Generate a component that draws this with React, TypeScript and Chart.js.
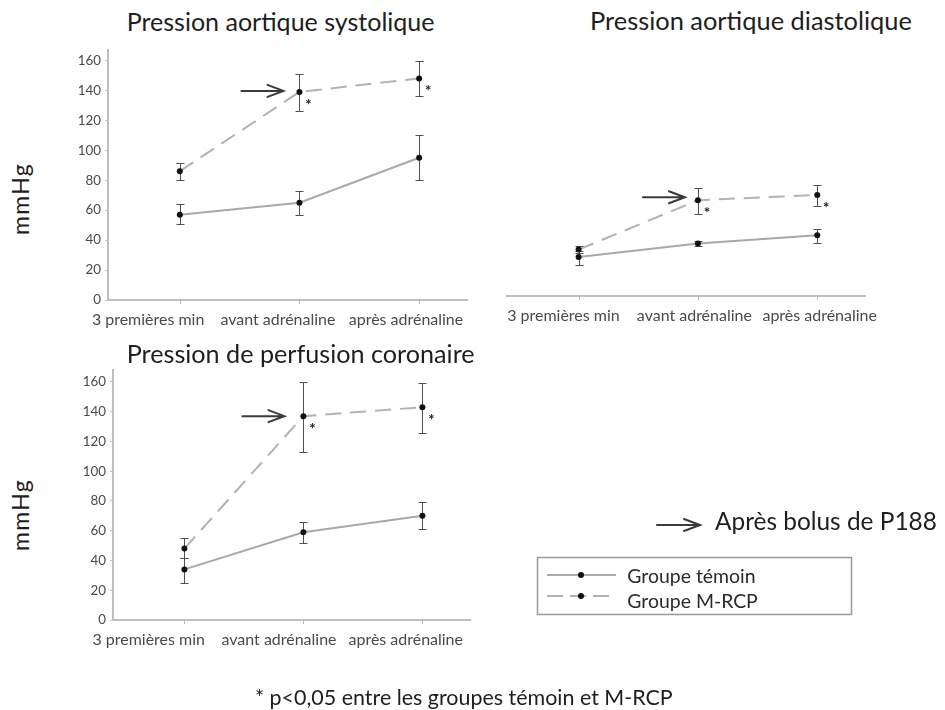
import React, { useEffect, useRef, useMemo } from "react";
import { Chart, registerables } from "chart.js";

Chart.register(...registerables);

const FAMILY = "Lato";
const FONT = "Lato, 'Open Sans', sans-serif";

// ---------- data ----------
const categories = ["3 premières min", "avant adrénaline", "après adrénaline"];
const yTickValues = [0, 20, 40, 60, 80, 100, 120, 140, 160];
const seriesNames = ["Groupe témoin", "Groupe M-RCP"];
const starIndices = [1, 2];

// Pression aortique systolique
const sysTemoin = [57, 65, 95];
const sysTemoinLow = [51, 57, 80];
const sysTemoinHigh = [64, 72.5, 110];
const sysRcp = [86, 139, 148];
const sysRcpLow = [80, 126, 136.5];
const sysRcpHigh = [91.5, 151, 159.5];

// Pression aortique diastolique
const diaTemoin = [26, 35, 40.5];
const diaTemoinLow = [21, 33.5, 35.5];
const diaTemoinHigh = [30, 37, 45];
const diaRcp = [31, 64, 67.5];
const diaRcpLow = [29, 55, 60];
const diaRcpHigh = [33.5, 72, 74];

// Pression de perfusion coronaire
const corTemoin = [34, 59, 70];
const corTemoinLow = [25, 52, 61];
const corTemoinHigh = [42, 66, 79];
const corRcp = [48, 137, 143];
const corRcpLow = [42, 113, 126];
const corRcpHigh = [55, 160, 159];

// ---------- helpers ----------
function measure(text: string, size: number): number {
  const c = document.createElement("canvas").getContext("2d");
  if (!c) return text.length * size * 0.5;
  c.font = `${size}px ${FONT}`;
  return c.measureText(text).width;
}
function fitSize(text: string, width: number): number {
  return (100 * width) / measure(text, 100);
}

type Panel = {
  left: number;
  top: number;
  width: number;
  height: number;
  pad: { left: number; right: number; top: number };
  showY: boolean;
  yMax: number;
  labelShift: number[];
  temoin: number[];
  temoinLow: number[];
  temoinHigh: number[];
  rcp: number[];
  rcpLow: number[];
  rcpHigh: number[];
  arrow: [number, number, number];
};

const panels: Panel[] = [
  {
    left: 60, top: 40, width: 420, height: 300,
    pad: { left: 0, right: 13, top: 10 },
    showY: true, yMax: 167,
    labelShift: [-0.265, -0.18, -0.11],
    temoin: sysTemoin, temoinLow: sysTemoinLow, temoinHigh: sysTemoinHigh,
    rcp: sysRcp, rcpLow: sysRcpLow, rcpHigh: sysRcpHigh,
    arrow: [-58, -16, -1],
  },
  {
    left: 480, top: 36, width: 465, height: 300,
    pad: { left: 27, right: 80, top: 10 },
    showY: false, yMax: 167,
    labelShift: [-0.127, -0.03, 0.02],
    temoin: diaTemoin, temoinLow: diaTemoinLow, temoinHigh: diaTemoinHigh,
    rcp: diaRcp, rcpLow: diaRcpLow, rcpHigh: diaRcpHigh,
    arrow: [-55, -13, -3],
  },
  {
    left: 65, top: 360, width: 420, height: 300,
    pad: { left: 0, right: 15, top: 10 },
    showY: true, yMax: 168,
    labelShift: [-0.3, -0.205, -0.14],
    temoin: corTemoin, temoinLow: corTemoinLow, temoinHigh: corTemoinHigh,
    rcp: corRcp, rcpLow: corRcpLow, rcpHigh: corRcpHigh,
    arrow: [-61, -19, 0],
  },
];

function drawArrow(ctx: CanvasRenderingContext2D, x0: number, x1: number, y: number) {
  ctx.save();
  ctx.strokeStyle = "#3a3a3a";
  ctx.lineWidth = 2;
  ctx.lineCap = "round";
  ctx.beginPath();
  ctx.moveTo(x0, y);
  ctx.lineTo(x1, y);
  ctx.moveTo(x1 - 16, y - 6);
  ctx.lineTo(x1, y);
  ctx.lineTo(x1 - 16, y + 6);
  ctx.stroke();
  ctx.restore();
}

function makeMarksPlugin(p: Panel) {
  return {
    id: "panelMarks",
    beforeDatasetsDraw(chart: any) {
      const ctx: CanvasRenderingContext2D = chart.ctx;
      const xs = chart.scales.x;
      const ys = chart.scales.y;
      const bottom = chart.chartArea.bottom;
      ctx.save();
      // category tick marks below the x axis
      ctx.strokeStyle = "#b5b5b5";
      ctx.lineWidth = 1;
      categories.forEach((_c, i) => {
        const x = Math.round(xs.getPixelForValue(i)) + 0.5;
        ctx.beginPath();
        ctx.moveTo(x, bottom);
        ctx.lineTo(x, bottom + 4);
        ctx.stroke();
      });
      // error bars
      ctx.strokeStyle = "#505050";
      ctx.lineWidth = 1;
      const sets = [
        [p.temoinLow, p.temoinHigh],
        [p.rcpLow, p.rcpHigh],
      ];
      sets.forEach(([low, high]) => {
        low.forEach((lo, j) => {
          const x = Math.round(xs.getPixelForValue(j)) + 0.5;
          const y1 = Math.round(ys.getPixelForValue(lo)) + 0.5;
          const y2 = Math.round(ys.getPixelForValue(high[j])) + 0.5;
          ctx.beginPath();
          ctx.moveTo(x, y1);
          ctx.lineTo(x, y2);
          ctx.moveTo(x - 4, y1);
          ctx.lineTo(x + 4, y1);
          ctx.moveTo(x - 4, y2);
          ctx.lineTo(x + 4, y2);
          ctx.stroke();
        });
      });
      ctx.restore();
    },
    afterDatasetsDraw(chart: any) {
      const ctx: CanvasRenderingContext2D = chart.ctx;
      const meta = chart.getDatasetMeta(1);
      ctx.save();
      ctx.fillStyle = "#222";
      ctx.font = `bold 15px ${FONT}`;
      ctx.textAlign = "center";
      ctx.textBaseline = "alphabetic";
      starIndices.forEach((j) => {
        const pt = meta.data[j];
        ctx.fillText("*", pt.x + 9, pt.y + 18);
      });
      ctx.restore();
      const ap = meta.data[1];
      drawArrow(ctx, ap.x + p.arrow[0], ap.x + p.arrow[1], ap.y + p.arrow[2]);
    },
  };
}

function makeConfig(p: Panel, xSize: number, ySize: number): any {
  const toPts = (arr: number[]) => arr.map((v, i) => ({ x: i, y: v }));
  return {
    type: "line",
    data: {
      datasets: [
        {
          label: seriesNames[0],
          data: toPts(p.temoin),
          borderColor: "#a8a8a8",
          borderWidth: 2,
          pointRadius: 3,
          pointBackgroundColor: "#111",
          pointBorderColor: "#111",
          pointBorderWidth: 0,
          tension: 0,
        },
        {
          label: seriesNames[1],
          data: toPts(p.rcp),
          borderColor: "#b2b2b2",
          borderWidth: 2,
          borderDash: [16, 9],
          pointRadius: 3,
          pointBackgroundColor: "#111",
          pointBorderColor: "#111",
          pointBorderWidth: 0,
          tension: 0,
        },
      ],
    },
    options: {
      animation: false,
      responsive: false,
      maintainAspectRatio: false,
      layout: { padding: { left: p.pad.left, right: p.pad.right, top: p.pad.top, bottom: 0 } },
      plugins: {
        legend: { display: false },
        title: { display: false },
        tooltip: { enabled: false },
      },
      scales: {
        x: {
          type: "linear",
          min: -0.6,
          max: 2.4,
          afterBuildTicks: (s: any) => {
            s.ticks = categories.map((_c, i) => ({ value: i + p.labelShift[i] }));
          },
          afterFit: (s: any) => {
            s.height = 40;
            s.paddingLeft = 0;
            s.paddingRight = 0;
          },
          ticks: {
            callback: (_v: any, idx: number) => categories[idx],
            autoSkip: false,
            maxRotation: 0,
            minRotation: 0,
            padding: 10,
            color: "#4a4a4a",
            font: { family: FAMILY, size: xSize },
          },
          grid: { display: false, drawTicks: false },
          border: { display: true, color: "#bfbfbf", width: 2 },
        },
        y: {
          display: p.showY,
          min: 0,
          max: p.yMax,
          afterBuildTicks: (s: any) => {
            s.ticks = yTickValues.map((v) => ({ value: v }));
          },
          afterFit: (s: any) => {
            s.width = p.showY ? 48 : 0;
            s.paddingTop = 0;
            s.paddingBottom = 0;
          },
          ticks: {
            padding: 4,
            color: "#4a4a4a",
            font: { family: FAMILY, size: ySize },
          },
          grid: { display: true, drawOnChartArea: false, drawTicks: true, tickLength: 3, color: "#bfbfbf" },
          border: { display: true, color: "#bfbfbf", width: 2 },
        },
      },
    },
    plugins: [makeMarksPlugin(p)],
  };
}

function PanelChart({ p, xSize, ySize }: { p: Panel; xSize: number; ySize: number }) {
  const ref = useRef<HTMLCanvasElement | null>(null);
  useEffect(() => {
    if (!ref.current) return;
    const chart = new Chart(ref.current, makeConfig(p, xSize, ySize));
    return () => chart.destroy();
  }, [p, xSize, ySize]);
  return (
    <canvas
      ref={ref}
      width={p.width}
      height={p.height}
      style={{ position: "absolute", left: p.left, top: p.top, width: p.width, height: p.height }}
    />
  );
}

function Text({ text, left, baseline, size, color = "#1e1e1e" }: { text: string; left: number; baseline: number; size: number; color?: string }) {
  return (
    <div
      style={{
        position: "absolute",
        left,
        top: baseline - 0.987 * size,
        fontFamily: FONT,
        fontSize: size,
        lineHeight: 1.2,
        whiteSpace: "nowrap",
        color,
      }}
    >
      {text}
    </div>
  );
}

function YTitle({ cx, cy, size, spacing }: { cx: number; cy: number; size: number; spacing: number }) {
  return (
    <div
      style={{
        position: "absolute",
        left: cx,
        top: cy,
        transform: "translate(-50%, -50%) rotate(-90deg)",
        fontFamily: FONT,
        fontSize: size,
        lineHeight: 1.2,
        letterSpacing: spacing,
        whiteSpace: "nowrap",
        color: "#1e1e1e",
      }}
    >
      mmHg
    </div>
  );
}

const titles = ["Pression aortique systolique", "Pression aortique diastolique", "Pression de perfusion coronaire"];
const arrowNote = "Après bolus de P188";
const footnote = "* p<0,05 entre les groupes témoin et M-RCP";

export default function App() {
  const sizes = useMemo(() => {
    const mm = 23;
    const mmW = measure("mmHg", mm);
    return {
      x: fitSize(categories[1], 115),
      y: fitSize("160", 23.3),
      t0: fitSize(titles[0], 308),
      t1: fitSize(titles[1], 322),
      t2: fitSize(titles[2], 348),
      mm,
      mmLS: Math.min(2, Math.max(0, (72 - mmW) / 4)),
      leg: fitSize(seriesNames[0], 128.3),
      note: fitSize(arrowNote, 222),
      foot: fitSize(footnote, 418),
    };
  }, []);

  return (
    <div style={{ position: "absolute", left: 0, top: 0, width: 945, height: 710, background: "#fff", overflow: "hidden" }}>
      {panels.map((p, i) => (
        <PanelChart key={i} p={p} xSize={sizes.x} ySize={sizes.y} />
      ))}
      <Text text={titles[0]} left={126.7} baseline={30.5} size={sizes.t0} />
      <Text text={titles[1]} left={590} baseline={30.5} size={sizes.t1} />
      <Text text={titles[2]} left={126.7} baseline={363.3} size={sizes.t2} />
      <YTitle cx={21} cy={199} size={sizes.mm} spacing={sizes.mmLS} />
      <YTitle cx={21} cy={515} size={sizes.mm} spacing={sizes.mmLS} />

      <svg width={945} height={710} style={{ position: "absolute", left: 0, top: 0, pointerEvents: "none" }}>
        <g stroke="#3a3a3a" strokeWidth={2} fill="none" strokeLinecap="round">
          <line x1={657} y1={525} x2={700} y2={525} />
          <polyline points="684,519 700,525 684,531" />
        </g>
        <rect x={537.5} y={557.5} width={314} height={57} fill="none" stroke="#9a9a9a" strokeWidth={1.5} />
        <line x1={547} y1={575} x2={616} y2={575} stroke="#ababab" strokeWidth={2} />
        <circle cx={581} cy={575} r={3} fill="#111" />
        <line x1={547} y1={596} x2={611} y2={596} stroke="#b2b2b2" strokeWidth={2} strokeDasharray="16 7" />
        <circle cx={581} cy={596} r={3} fill="#111" />
      </svg>
      <Text text={seriesNames[0]} left={627.3} baseline={583.3} size={sizes.leg} color="#2a2a2a" />
      <Text text={seriesNames[1]} left={627.3} baseline={608.5} size={sizes.leg} color="#2a2a2a" />
      <Text text={arrowNote} left={715} baseline={530} size={sizes.note} />
      <Text text={footnote} left={255} baseline={706} size={sizes.foot} />
    </div>
  );
}
